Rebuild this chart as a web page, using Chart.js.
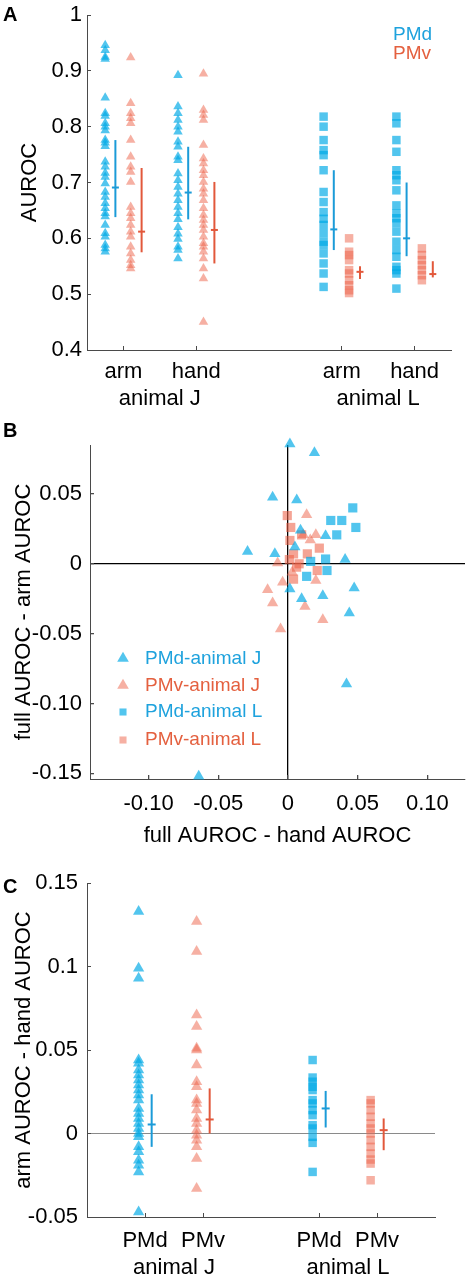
<!DOCTYPE html>
<html>
<head>
<meta charset="utf-8">
<title>AUROC by area</title>
<script src="https://cdn.jsdelivr.net/npm/chart.js@4.4.0/dist/chart.umd.min.js"></script>
<style>
  body { margin: 0; background: #fff; width: 466px; height: 1280px; position: relative; overflow: hidden;
         font-family: "Liberation Sans", Arial, Helvetica, sans-serif; }
  .panel { position: absolute; left: 0; width: 466px; }
  .letter { position: absolute; left: 3px; font-weight: bold; font-size: 20px; line-height: 20px; color: #000; }
</style>
</head>
<body>
<div class="panel" style="top:0;height:415px"><canvas id="chartA" width="466" height="415"></canvas></div>
<div class="panel" style="top:415px;height:435px"><canvas id="chartB" width="466" height="435"></canvas></div>
<div class="panel" style="top:850px;height:430px"><canvas id="chartC" width="466" height="430"></canvas></div>
<div class="letter" style="top:4px">A</div>
<div class="letter" style="top:420px">B</div>
<div class="letter" style="top:876px">C</div>

<script>
// ---- panel A: AUROC per unit ----
const groupPos = [1, 2, 4, 5];
const aGroupLabels = ['arm', 'hand', 'arm', 'hand'];
const animalPos = [1.5, 4.5];
const animalLabels = ['animal J', 'animal L'];
const aYTicks = [0.4, 0.5, 0.6, 0.7, 0.8, 0.9, 1];
const aYTickLabels = ['0.4', '0.5', '0.6', '0.7', '0.8', '0.9', '1'];

const pmdArmJ = [0.946, 0.937, 0.925, 0.921, 0.852, 0.824, 0.819, 0.806, 0.800, 0.793, 0.776, 0.771, 0.765, 0.737, 0.728,
  0.717, 0.710, 0.698, 0.683, 0.674, 0.663, 0.654, 0.645, 0.639, 0.624, 0.609, 0.603, 0.588, 0.582, 0.576];
const pmvArmJ = [0.924, 0.842, 0.824, 0.815, 0.806, 0.776, 0.746, 0.728, 0.719, 0.701, 0.656, 0.645, 0.636, 0.624, 0.612,
  0.603, 0.585, 0.573, 0.561, 0.552, 0.546];
const pmdHandJ = [0.892, 0.836, 0.824, 0.812, 0.800, 0.791, 0.773, 0.764, 0.746, 0.740, 0.716, 0.704, 0.692, 0.680, 0.668,
  0.656, 0.645, 0.634, 0.620, 0.608, 0.599, 0.585, 0.579, 0.564];
const pmvHandJ = [0.895, 0.830, 0.821, 0.812, 0.767, 0.743, 0.734, 0.722, 0.713, 0.701, 0.689, 0.680, 0.668, 0.654, 0.642,
  0.633, 0.624, 0.615, 0.603, 0.591, 0.585, 0.576, 0.564, 0.546, 0.528, 0.450];
const pmdArmL = [0.818, 0.800, 0.776, 0.758, 0.749, 0.722, 0.683, 0.665, 0.647, 0.635, 0.624, 0.609, 0.594, 0.588, 0.573,
  0.555, 0.537, 0.513];
const pmvArmL = [0.600, 0.576, 0.570, 0.561, 0.543, 0.537, 0.525, 0.516, 0.507, 0.502];
const pmdHandL = [0.818, 0.806, 0.776, 0.755, 0.722, 0.713, 0.704, 0.686, 0.659, 0.645, 0.636, 0.627, 0.612, 0.594, 0.579,
  0.567, 0.549, 0.543, 0.537, 0.510];
const pmvHandL = [0.582, 0.570, 0.561, 0.552, 0.543, 0.534, 0.525];

// [low, median, high] for each group
const aPmdSummary = [[0.638, 0.691, 0.776], [0.634, 0.682, 0.764], [0.579, 0.616, 0.722], [0.568, 0.600, 0.700]];
const aPmvSummary = [[0.575, 0.612, 0.726], [0.555, 0.615, 0.701], [0.527, 0.540, 0.550], [0.530, 0.536, 0.559]];

// ---- panel B: (full - hand, full - arm) per unit ----
const bXTicks = [-0.10, -0.05, 0, 0.05, 0.10];
const bXTickLabels = ['-0.10', '-0.05', '0', '0.05', '0.10'];
const bYTicks = [-0.15, -0.10, -0.05, 0, 0.05];
const bYTickLabels = ['-0.15', '-0.10', '-0.05', '0', '0.05'];

const bPmdJ = [[0.0014, 0.0857], [0.019, 0.0795], [-0.011, 0.0476], [0.0063, 0.0457], [0.027, 0.020], [-0.029, 0.0088],
  [-0.0094, 0.0071], [0.041, 0.003], [0.0014, -0.018], [0.0098, -0.025], [0.025, -0.0229], [0.0475, -0.0174],
  [0.044, -0.0352], [0.042, -0.086], [-0.064, -0.152], [0.005, 0.012], [0.009, 0.024]];
const bPmvJ = [[0.0134, 0.035], [-0.0074, 0.0005], [-0.0038, -0.0133], [-0.0146, -0.0186], [-0.011, -0.028],
  [0.0122, -0.0305], [0.020, -0.0119], [0.025, -0.040], [-0.0053, -0.0467], [0.011, 0.0207], [0.020, 0.0207],
  [0.016, 0.017], [0.003, -0.006]];
const bPmdL = [[0.0465, 0.040], [0.0307, 0.031], [0.0386, 0.031], [0.0487, 0.026], [0.035, 0.0207], [0.0134, -0.009],
  [0.027, 0.0034], [0.028, -0.0048], [0.0163, 0.0017]];
const bPmvL = [[-0.0005, 0.0345], [0.0014, 0.0167], [0.004, 0.0071], [0.0225, 0.0112], [0.021, -0.0048],
  [0.0062, -0.0024], [0.0139, 0.0071], [0.0098, 0.0207], [0.002, 0.026], [0.004, -0.011], [0.008, 0.0], [0.001, 0.003]];
const bLegendLabels = ['PMd-animal J', 'PMv-animal J', 'PMd-animal L', 'PMv-animal L'];

// ---- panel C: arm - hand per unit ----
const cGroupLabels = ['PMd', 'PMv', 'PMd', 'PMv'];
const cYTicks = [-0.05, 0, 0.05, 0.1, 0.15];
const cYTickLabels = ['-0.05', '0', '0.05', '0.1', '0.15'];

const cPmdJ = [0.133, 0.099, 0.093, 0.044, 0.042, 0.038, 0.035, 0.032, 0.029, 0.026, 0.023, 0.020, 0.015, 0.012, 0.009,
  0.006, 0.003, 0.000, -0.002, -0.008, -0.011, -0.016, -0.019, -0.023, -0.047];
const cPmvJ = [0.127, 0.109, 0.071, 0.064, 0.051, 0.050, 0.041, 0.031, 0.028, 0.020, 0.018, 0.014, 0.009, 0.006, 0.002,
  -0.001, -0.004, -0.008, -0.015, -0.033];
const cPmdL = [0.044, 0.0335, 0.031, 0.028, 0.026, 0.020, 0.018, 0.014, 0.011, 0.005, 0.003, -0.002, -0.0056, -0.023];
const cPmvL = [0.020, 0.018, 0.014, 0.010, 0.006, 0.003, 0.000, -0.004, -0.008, -0.012, -0.0156, -0.018, -0.028];
const cSummary = [[-0.008, 0.0054, 0.0235], [0.0, 0.0084, 0.027], [0.0036, 0.015, 0.0255], [-0.010, 0.002, 0.009]];

// ---- styles ----
const BLUE_FILL = 'rgba(0,170,230,0.68)';
const RED_FILL = 'rgba(238,98,72,0.5)';
const BLUE_LINE = '#1b9bd8';
const RED_LINE = '#e2583b';
const BLUE_TEXT = '#1ea2dd';
const RED_TEXT = '#e4603f';
const AXIS_GRAY = '#4a4a4a';
const CLEAR = 'rgba(0,0,0,0)';
const TICK_FONT = { size: 22, lineHeight: 1.23 };

Chart.defaults.font.family = '"Liberation Sans", Arial, Helvetica, sans-serif';
Chart.defaults.color = '#000';

function markerSet(values, x, shape, fill, r) {
  return {
    type: 'scatter',
    data: values.map(v => ({ x: x, y: v })),
    pointStyle: shape, pointRadius: r, pointBackgroundColor: fill, pointBorderWidth: 0, clip: false
  };
}

function pairSet(pairs, shape, fill, r) {
  return {
    type: 'scatter',
    data: pairs.map(p => ({ x: p[0], y: p[1] })),
    pointStyle: shape, pointRadius: r, pointBackgroundColor: fill, pointBorderWidth: 0, clip: false
  };
}

// vertical range line + short median tick
function errorBar(summary, x, color, tick) {
  return [
    {
      type: 'line',
      data: [{ x: x, y: summary[0] }, { x: x, y: summary[2] }],
      borderColor: color, borderWidth: 2, pointRadius: 0, clip: false
    },
    {
      type: 'scatter',
      data: [{ x: x, y: summary[1] }],
      pointStyle: 'line', pointRadius: tick, pointBorderColor: color, pointBorderWidth: 2, clip: false
    }
  ];
}

function categoryTicks(labels) {
  const t = groupPos.map((p, i) => ({ value: p, label: labels[i] }));
  animalPos.forEach((p, i) => t.push({ value: p, label: ['', animalLabels[i]] }));
  return t.sort((a, b) => a.value - b.value);
}

function makeAxis(o) {
  return {
    type: 'linear',
    min: o.min,
    max: o.max,
    border: { display: true, color: AXIS_GRAY, width: 1 },
    grid: {
      drawTicks: true,
      tickLength: -4,
      tickColor: o.tickColor || AXIS_GRAY,
      color: o.gridColor || CLEAR,
      lineWidth: o.gridWidth || 1
    },
    ticks: {
      autoSkip: false, maxRotation: 0, minRotation: 0,
      padding: o.pad, color: '#000', font: TICK_FONT,
      callback: (v, i) => o.labels[i]
    },
    title: o.title ? {
      display: true, text: o.title, color: '#000', font: TICK_FONT, padding: o.titlePad
    } : { display: false },
    afterBuildTicks: s => { s.ticks = o.values.map(v => ({ value: v })); },
    afterFit: s => {
      if (o.width) s.width = o.width;
      if (o.height) s.height = o.height;
      s.paddingTop = 0; s.paddingBottom = 0; s.paddingLeft = 0; s.paddingRight = 0;
    }
  };
}

// text / legend annotations drawn on the canvas
const notesPlugin = {
  id: 'notes',
  afterDraw(chart, args, opts) {
    const ctx = chart.ctx;
    ctx.save();
    (opts.items || []).forEach(it => {
      if (it.marker) {
        ctx.fillStyle = it.markerColor;
        ctx.beginPath();
        const r = it.r;
        if (it.marker === 'triangle') {
          ctx.moveTo(it.mx, it.y - r);
          ctx.lineTo(it.mx + r * 0.866, it.y + r * 0.5);
          ctx.lineTo(it.mx - r * 0.866, it.y + r * 0.5);
        } else {
          const h = r * Math.SQRT1_2;
          ctx.rect(it.mx - h, it.y - h, 2 * h, 2 * h);
        }
        ctx.closePath();
        ctx.fill();
      }
      ctx.font = (it.size || 19) + 'px "Liberation Sans", Arial, sans-serif';
      ctx.fillStyle = it.color;
      ctx.textAlign = 'left';
      ctx.textBaseline = 'middle';
      ctx.fillText(it.text, it.x, it.y);
    });
    ctx.restore();
  }
};

const baseOptions = {
  responsive: false,
  animation: false,
  events: [],
  plugins: { legend: { display: false }, tooltip: { enabled: false } }
};

// ---------- Chart A ----------
const aShapes = ['triangle', 'triangle', 'rect', 'rect'];
const aRadius = [5.5, 5.5, 6, 6];
const aPmd = [pmdArmJ, pmdHandJ, pmdArmL, pmdHandL];
const aPmv = [pmvArmJ, pmvHandJ, pmvArmL, pmvHandL];
const aSets = [];
groupPos.forEach((p, i) => {
  aSets.push(markerSet(aPmd[i], p - 0.25, aShapes[i], BLUE_FILL, aRadius[i]));
  aSets.push(markerSet(aPmv[i], p + 0.1, aShapes[i], RED_FILL, aRadius[i]));
  aSets.push(...errorBar(aPmdSummary[i], p - 0.11, BLUE_LINE, 3.5));
  aSets.push(...errorBar(aPmvSummary[i], p + 0.25, RED_LINE, 3.5));
});
const aXTicks = categoryTicks(aGroupLabels);

new Chart(document.getElementById('chartA'), {
  type: 'scatter',
  data: { datasets: aSets },
  options: {
    ...baseOptions,
    layout: { autoPadding: false, padding: { top: 15, right: 15, bottom: 0, left: 0 } },
    plugins: {
      ...baseOptions.plugins,
      notes: { items: [
        { text: 'PMd', x: 393, y: 35, color: BLUE_TEXT },
        { text: 'PMv', x: 393, y: 54, color: RED_TEXT }
      ] }
    },
    scales: {
      x: makeAxis({
        min: 0.5, max: 5.5, values: aXTicks.map(t => t.value), labels: aXTicks.map(t => t.label),
        pad: 12, height: 65,
        tickColor: ctx => (ctx.tick && groupPos.includes(ctx.tick.value)) ? AXIS_GRAY : CLEAR
      }),
      y: makeAxis({
        min: 0.4, max: 1, values: aYTicks, labels: aYTickLabels, pad: 9, width: 87,
        title: 'AUROC', titlePad: { top: 16, bottom: 0 }
      })
    }
  },
  plugins: [notesPlugin]
});

// ---------- Chart B ----------
const zeroLine = ctx => (ctx.tick && ctx.tick.value === 0) ? '#000' : CLEAR;
new Chart(document.getElementById('chartB'), {
  type: 'scatter',
  data: { datasets: [
    pairSet(bPmdJ, 'triangle', BLUE_FILL, 6.5),
    pairSet(bPmvJ, 'triangle', RED_FILL, 6.5),
    pairSet(bPmdL, 'rect', BLUE_FILL, 6.5),
    pairSet(bPmvL, 'rect', 'rgba(238,98,72,0.58)', 6.5)
  ] },
  options: {
    ...baseOptions,
    layout: { autoPadding: false, padding: { top: 30, right: 1, bottom: 0, left: 0 } },
    plugins: {
      ...baseOptions.plugins,
      notes: { items: [
        { text: bLegendLabels[0], x: 145, y: 243.5, color: BLUE_TEXT, marker: 'triangle', mx: 123, r: 6.7, markerColor: BLUE_FILL },
        { text: bLegendLabels[1], x: 145, y: 270.5, color: RED_TEXT, marker: 'triangle', mx: 123, r: 6.7, markerColor: RED_FILL },
        { text: bLegendLabels[2], x: 145, y: 297, color: BLUE_TEXT, marker: 'rect', mx: 123, r: 5, markerColor: BLUE_FILL },
        { text: bLegendLabels[3], x: 145, y: 325, color: RED_TEXT, marker: 'rect', mx: 123, r: 5, markerColor: RED_FILL }
      ] }
    },
    scales: {
      x: makeAxis({
        min: -0.142, max: 0.127, values: bXTicks, labels: bXTickLabels, pad: 15.5, height: 71,
        gridColor: zeroLine, gridWidth: 1.3,
        title: 'full AUROC - hand AUROC', titlePad: { top: 0, bottom: 1 }
      }),
      y: makeAxis({
        min: -0.154, max: 0.085, values: bYTicks, labels: bYTickLabels, pad: 12, width: 90,
        gridColor: zeroLine, gridWidth: 1.3,
        title: 'full AUROC - arm AUROC', titlePad: { top: 10, bottom: 0 }
      })
    }
  },
  plugins: [notesPlugin]
});

// ---------- Chart C ----------
const cShapes = ['triangle', 'triangle', 'rect', 'rect'];
const cRadius = [6.5, 6.5, 6, 6];
const cFill = [BLUE_FILL, RED_FILL, BLUE_FILL, RED_FILL];
const cLine = [BLUE_LINE, RED_LINE, BLUE_LINE, RED_LINE];
const cValues = [cPmdJ, cPmvJ, cPmdL, cPmvL];
const cSets = [];
groupPos.forEach((p, i) => {
  cSets.push(markerSet(cValues[i], p - 0.11, cShapes[i], cFill[i], cRadius[i]));
  cSets.push(...errorBar(cSummary[i], p + 0.115, cLine[i], 4));
});
const cXTicks = categoryTicks(cGroupLabels);

new Chart(document.getElementById('chartC'), {
  type: 'scatter',
  data: { datasets: cSets },
  options: {
    ...baseOptions,
    layout: { autoPadding: false, padding: { top: 33, right: 31, bottom: 0, left: 0 } },
    scales: {
      x: makeAxis({
        min: 0, max: 6, values: cXTicks.map(t => t.value), labels: cXTicks.map(t => t.label),
        pad: 14, height: 63,
        tickColor: ctx => (ctx.tick && groupPos.includes(ctx.tick.value)) ? AXIS_GRAY : CLEAR
      }),
      y: makeAxis({
        min: -0.05, max: 0.15, values: cYTicks, labels: cYTickLabels, pad: 13, width: 87,
        gridColor: ctx => (ctx.tick && ctx.tick.value === 0) ? '#8a8a8a' : CLEAR,
        title: 'arm AUROC - hand AUROC', titlePad: { top: 10, bottom: 0 }
      })
    }
  }
});
</script>
</body>
</html>
